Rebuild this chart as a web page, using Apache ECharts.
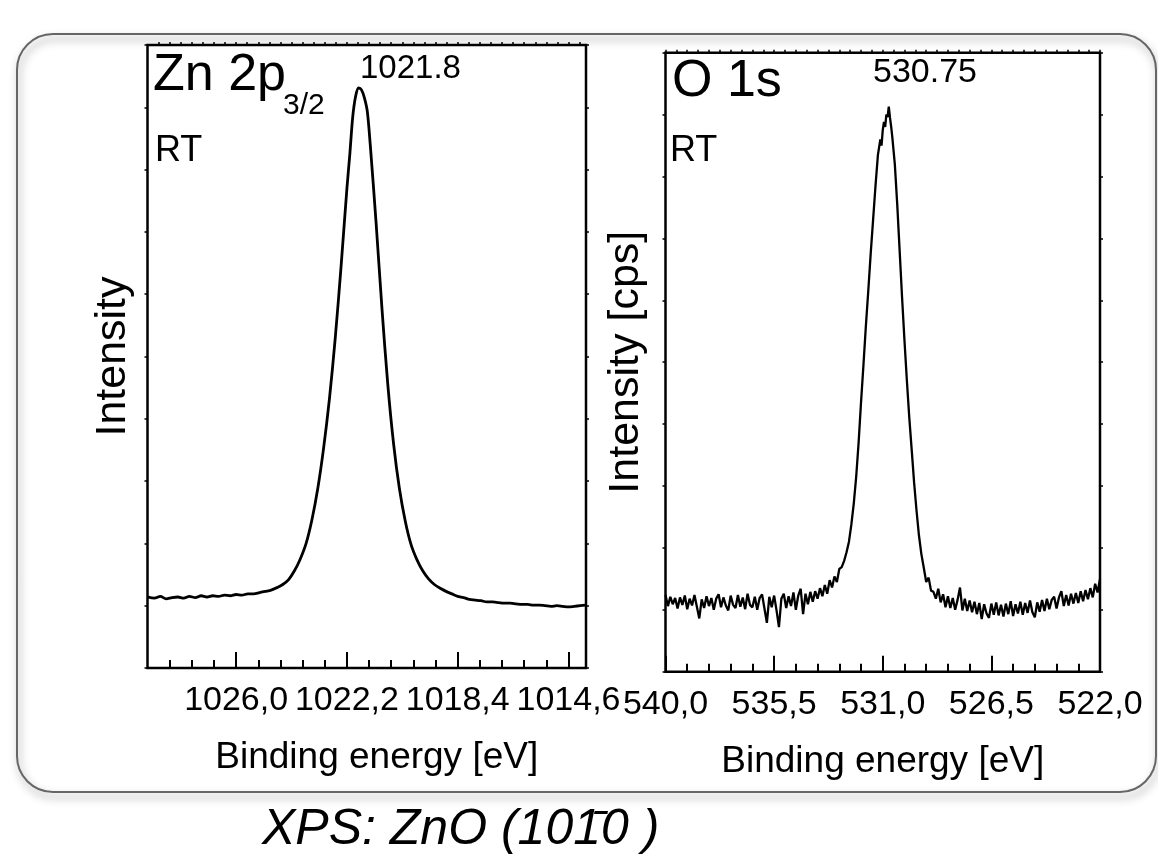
<!DOCTYPE html>
<html><head><meta charset="utf-8">
<script src="https://cdn.jsdelivr.net/npm/echarts@6/dist/echarts.min.js"></script>
<style>html,body{margin:0;padding:0;background:#fff}#c{width:1158px;height:855px}</style>
</head><body><div id="c"></div>
<script>
// ---- Zn 2p3/2 panel ----
const znRange = [1014.0, 1029.04];
const znMajorTicks = [1014.6, 1018.4, 1022.2, 1026.0];
const znEnergy = [1029.04,1028.8,1028.6,1028.4,1028.2,1028.0,1027.8,1027.6,1027.4,1027.2,1027.0,1026.8,1026.6,1026.4,1026.2,1026.0,1025.8,1025.6,1025.4,1025.2,1025.0,1024.8,1024.6,1024.4,1024.2,1024.0,1023.8,1023.6,1023.4,1023.2,1023.0,1022.8,1022.6,1022.4,1022.2,1022.1,1022.0,1021.9,1021.8,1021.7,1021.6,1021.5,1021.4,1021.2,1021.0,1020.8,1020.6,1020.4,1020.2,1020.0,1019.8,1019.6,1019.4,1019.2,1019.0,1018.8,1018.6,1018.4,1018.2,1018.0,1017.8,1017.6,1017.4,1017.2,1017.0,1016.8,1016.6,1016.4,1016.2,1016.0,1015.8,1015.6,1015.4,1015.2,1015.0,1014.8,1014.6,1014.4,1014.2,1014.0];
const znIntensity = [11.4,11.2,11.5,11.1,11.3,11.4,11.2,11.5,11.3,11.6,11.4,11.6,11.5,11.7,11.6,11.8,11.7,11.9,11.9,12.1,12.3,12.5,12.9,13.4,14.2,15.6,17.5,20.0,23.8,28.8,35.3,43.2,53.0,64.5,77.0,82.5,88.5,91.8,93.1,92.8,91.5,89.3,84.0,71.5,57.8,45.6,36.0,28.8,23.6,19.8,17.4,15.6,14.3,13.4,12.8,12.3,11.9,11.5,11.3,11.0,10.9,10.8,10.6,10.6,10.5,10.4,10.4,10.3,10.2,10.2,10.1,10.1,10.0,9.9,10.0,9.9,9.8,9.9,10.0,10.1];

// ---- O 1s panel ----
const oRange = [522.0, 540.0];
const oPoints = [
[540.0,12.4],[539.9,10.6],[539.8,12.1],[539.7,10.9],[539.6,11.9],[539.5,10.2],[539.4,12.0],[539.3,10.8],[539.2,12.3],[539.1,10.1],
[539.0,11.8],[538.9,10.7],[538.8,12.4],[538.7,10.5],[538.6,8.6],[538.5,11.7],[538.4,10.3],[538.3,12.2],[538.2,10.6],[538.1,11.9],
[538.0,10.0],[537.9,11.8],[537.8,12.5],[537.7,10.4],[537.6,12.0],[537.5,10.7],[537.4,9.9],[537.3,12.3],[537.2,10.8],[537.1,10.3],
[537.0,12.4],[536.9,10.5],[536.8,12.0],[536.7,10.1],[536.6,12.6],[536.5,10.8],[536.4,10.4],[536.3,12.1],[536.2,10.0],[536.1,11.9],
[536.0,12.5],[535.9,10.2],[535.8,7.9],[535.7,12.1],[535.6,10.4],[535.5,12.3],[535.4,9.9],[535.3,7.2],[535.2,11.8],[535.1,12.6],
[535.0,10.3],[534.9,12.2],[534.8,10.6],[534.7,12.8],[534.6,10.0],[534.5,12.3],[534.4,13.4],[534.3,9.3],[534.2,12.6],[534.1,10.9],
[534.0,12.9],[533.9,11.3],[533.8,13.0],[533.7,11.8],[533.6,13.5],[533.5,12.2],[533.4,14.0],[533.3,12.6],[533.2,14.8],[533.1,13.6],
[533.0,15.4],[532.9,14.5],[532.8,16.6],[532.7,16.9],[532.6,17.9],[532.5,19.3],[532.4,21.0],[532.3,23.8],[532.2,27.2],[532.1,31.5],
[532.0,37.0],[531.9,43.5],[531.8,49.5],[531.7,55.8],[531.6,61.5],[531.5,67.5],[531.4,73.0],[531.3,78.5],[531.2,83.5],[531.1,86.0],
[531.05,85.0],[531.0,87.5],[530.95,88.8],[530.9,88.0],[530.85,90.0],[530.8,89.6],[530.75,91.3],[530.7,89.5],[530.65,88.0],[530.6,86.2],
[530.5,82.0],[530.4,75.5],[530.3,68.0],[530.2,60.5],[530.1,53.5],[530.0,47.0],[529.9,41.0],[529.8,35.8],[529.7,30.5],[529.6,26.0],
[529.5,22.0],[529.4,19.0],[529.3,16.8],[529.2,14.5],[529.1,15.2],[529.0,13.1],[528.9,12.9],[528.8,11.8],[528.7,13.4],[528.6,11.2],
[528.5,12.5],[528.4,10.4],[528.3,12.2],[528.2,10.3],[528.1,11.9],[528.0,10.0],[527.9,11.6],[527.8,13.6],[527.7,9.9],[527.6,11.8],
[527.5,9.8],[527.4,11.5],[527.3,9.6],[527.2,11.3],[527.1,9.3],[527.0,11.1],[526.9,8.5],[526.8,10.9],[526.7,9.4],[526.6,8.7],
[526.5,11.0],[526.4,9.2],[526.3,11.2],[526.2,9.1],[526.1,10.8],[526.0,8.9],[525.9,11.0],[525.8,9.3],[525.7,11.4],[525.6,9.0],
[525.5,10.9],[525.4,9.4],[525.3,11.3],[525.2,9.2],[525.1,11.1],[525.0,9.5],[524.9,11.5],[524.8,9.6],[524.7,8.8],[524.6,11.2],
[524.5,9.7],[524.4,11.6],[524.3,9.8],[524.2,11.8],[524.1,10.1],[524.0,11.6],[523.9,12.1],[523.8,10.2],[523.7,12.0],[523.6,13.0],
[523.5,10.6],[523.4,12.4],[523.3,10.7],[523.2,12.6],[523.1,11.0],[523.0,12.7],[522.9,11.1],[522.8,13.0],[522.7,11.4],[522.6,13.2],
[522.5,11.7],[522.4,13.5],[522.3,12.0],[522.2,14.2],[522.1,12.8],[522.0,15.0]
];

const FONT = 'Liberation Sans, Arial, sans-serif';

// minor / top tick positions derived from the major ticks
function subdivide(majors, n, lo, hi) {
  const step = (majors[1] - majors[0]) / n, out = [];
  for (let v = majors[0] - step * 60; v <= hi + 1e-9; v += step) {
    const r = Math.round(v * 1000) / 1000;
    if (r > lo + 1e-6 && r < hi - 1e-6 && !majors.some(m => Math.abs(m - r) < 1e-6)) out.push(r);
  }
  return out;
}
const znMinor = subdivide(znMajorTicks, 5, znRange[0], znRange[1]);
const znTop = subdivide(znMajorTicks, 10, znRange[0], znRange[1]).concat(znMajorTicks);

const fmt = v => v.toFixed(1).replace('.', ',');
const chart = echarts.init(document.getElementById('c'), null, {renderer: 'canvas'});

const baseX = (grid, range) => ({
  type: 'value', gridIndex: grid, min: range[0], max: range[1], inverse: true,
  splitLine: {show: false}, axisLine: {show: false}
});
const xNameStyle = {fontFamily: FONT, fontSize: 37, color: '#000'};
const yNameStyle = {fontFamily: FONT, fontSize: 43, color: '#000'};
const tickLbl = {fontFamily: FONT, fontSize: 34, color: '#000', margin: 16};

chart.setOption({
  animation: false,
  backgroundColor: '#fff',
  grid: [
    {left: 147.5, top: 45, width: 438.5, height: 623, show: true, borderColor: '#000', borderWidth: 2.5},
    {left: 665.5, top: 52.7, width: 434.5, height: 619, show: true, borderColor: '#000', borderWidth: 2.5}
  ],
  xAxis: [
    Object.assign(baseX(0, znRange), {
      position: 'bottom',
      axisTick: {show: true, inside: true, length: 16, customValues: znMajorTicks, lineStyle: {color: '#000', width: 2}},
      axisLabel: Object.assign({show: true, customValues: znMajorTicks, formatter: fmt}, tickLbl),
      name: 'Binding energy [eV]', nameLocation: 'middle', nameGap: 71,
      nameTextStyle: Object.assign({padding: [0, 0, 0, 20]}, xNameStyle)
    }),
    Object.assign(baseX(0, znRange), {
      position: 'bottom',
      axisTick: {show: true, inside: true, length: 8, customValues: znMinor, lineStyle: {color: '#000', width: 2}},
      axisLabel: {show: false}
    }),
    Object.assign(baseX(0, znRange), {
      position: 'top',
      axisTick: {show: true, inside: false, length: 3, customValues: znTop, lineStyle: {color: '#000', width: 1.5}},
      axisLabel: {show: false}
    }),
    Object.assign(baseX(1, oRange), {
      position: 'bottom', interval: 4.5,
      axisTick: {show: true, inside: true, length: 16, lineStyle: {color: '#000', width: 2}},
      axisLabel: Object.assign({show: true, formatter: fmt}, tickLbl),
      name: 'Binding energy [eV]', nameLocation: 'middle', nameGap: 72, nameTextStyle: xNameStyle
    }),
    Object.assign(baseX(1, oRange), {
      position: 'bottom', interval: 0.9,
      axisTick: {show: true, inside: true, length: 8, lineStyle: {color: '#000', width: 2}},
      axisLabel: {show: false}
    }),
    Object.assign(baseX(1, oRange), {
      position: 'top', interval: 0.45,
      axisTick: {show: true, inside: false, length: 3, lineStyle: {color: '#000', width: 1.5}},
      axisLabel: {show: false}
    })
  ],
  yAxis: [
    {type: 'value', gridIndex: 0, min: 0, max: 100, interval: 10, position: 'left',
     axisLine: {show: false}, splitLine: {show: false}, axisLabel: {show: false},
     axisTick: {show: true, inside: false, length: 3, lineStyle: {color: '#000', width: 1.5}},
     name: 'Intensity', nameLocation: 'middle', nameGap: 13, nameTextStyle: yNameStyle},
    {type: 'value', gridIndex: 0, min: 0, max: 100, interval: 10, position: 'right',
     axisLine: {show: false}, splitLine: {show: false}, axisLabel: {show: false},
     axisTick: {show: true, inside: false, length: 3, lineStyle: {color: '#000', width: 1.5}}},
    {type: 'value', gridIndex: 1, min: 0, max: 100, interval: 10, position: 'left',
     axisLine: {show: false}, splitLine: {show: false}, axisLabel: {show: false},
     axisTick: {show: true, inside: false, length: 3, lineStyle: {color: '#000', width: 1.5}},
     name: 'Intensity [cps]', nameLocation: 'middle', nameGap: 18, nameTextStyle: yNameStyle},
    {type: 'value', gridIndex: 1, min: 0, max: 100, interval: 10, position: 'right',
     axisLine: {show: false}, splitLine: {show: false}, axisLabel: {show: false},
     axisTick: {show: true, inside: false, length: 3, lineStyle: {color: '#000', width: 1.5}}}
  ],
  series: [
    {type: 'line', xAxisIndex: 0, yAxisIndex: 0, showSymbol: false, smooth: 0.3,
     data: znEnergy.map((e, i) => [e, znIntensity[i]]),
     lineStyle: {color: '#000', width: 2.8}},
    {type: 'line', xAxisIndex: 3, yAxisIndex: 2, showSymbol: false,
     data: oPoints, lineStyle: {color: '#000', width: 2.3}}
  ],
  graphic: [
    {type: 'rect', z: -10, silent: true,
     shape: {x: 17, y: 34, width: 1139, height: 758, r: 36},
     style: {fill: 'rgba(0,0,0,0)', stroke: '#666', lineWidth: 2, shadowBlur: 8, shadowOffsetX: 2, shadowOffsetY: 5, shadowColor: 'rgba(0,0,0,0.45)'}},
    {type: 'text', left: 153, top: 50, style: {text: 'Zn 2p', font: '52px ' + FONT, fill: '#000'}},
    {type: 'text', left: 283, top: 91, style: {text: '3/2', font: '30px ' + FONT, fill: '#000'}},
    {type: 'text', left: 360, top: 52, style: {text: '1021.8', font: '33px ' + FONT, fill: '#000'}},
    {type: 'text', left: 155, top: 133, style: {text: 'RT', font: '36px ' + FONT, fill: '#000'}},
    {type: 'text', left: 672, top: 56, style: {text: 'O 1s', font: '52px ' + FONT, fill: '#000'}},
    {type: 'text', left: 873, top: 56, style: {text: '530.75', font: '34px ' + FONT, fill: '#000'}},
    {type: 'text', left: 670, top: 133, style: {text: 'RT', font: '36px ' + FONT, fill: '#000'}},
    {type: 'text', left: 262, top: 805, style: {text: 'XPS: ZnO (101\u03040 )', font: 'italic 50px ' + FONT, fill: '#000'}}
  ]
});
</script></body></html>
